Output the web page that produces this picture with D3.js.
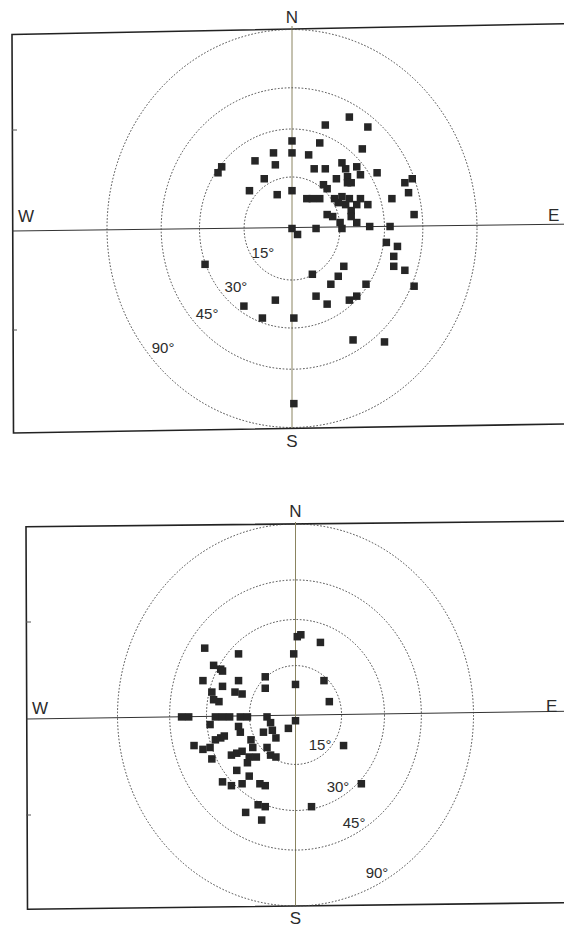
<!DOCTYPE html>
<html>
<head>
<meta charset="utf-8">
<script src="https://cdn.jsdelivr.net/npm/d3@7"></script>
<style>
  body { margin: 0; background: #fff; }
  svg { display: block; }
  text { font-family: "Liberation Sans", Arial, sans-serif; fill: #2b2b2b; }
</style>
</head>
<body>
<svg width="564" height="929"></svg>
<script>
// projected position of each pole, in % of the horizon radius (east, north)
var topEast = [31, 18, 41, 0, 15, 38, -10, 0, 9, -20, -9, 12, 18, 27, 29, 35, 37, 30, 24, 30, 32,
  -38, -40, 46, -15, 61, 65, 17, 19, -23, -8, 0, 63, 8, 11, 15, 23, 27, 31, 37, 41, 25, 29, 32, 35,
  19, 22, 32, 35, 26, 27, 54, 66, 0, 3, 13, 42, 53, 51, 57, 55, 55, 61, 66, -47, 28, 11, 25, 21,
  40, 13, 35, 31, 19, -9, -26, -16, 1, 33, 50, 1];
var topNorth = [56, 52, 51, 44, 43, 40, 38, 38, 37, 34, 32, 30, 30, 33, 30, 31, 27, 26, 25, 23, 23,
  31, 28, 28, 25, 23, 25, 22, 20, 19, 17, 19, 18, 15, 15, 15, 15, 16, 15, 15, 12, 13, 12, 9, 12,
  7, 6, 6, 3, 3, 0, 15, 7, 0, -3, 0, 1, 1, -7, -9, -14, -19, -21, -29, -18, -19, -23, -24, -28,
  -28, -34, -34, -36, -38, -36, -39, -45, -45, -56, -57, -88];

var botEast = [1, 3, 14, -51, -32, -1, -46, -42, -41, -17, 16, -52, -32, -41, -17, 0, -34, -30,
  -47, -46, -43, 19, -64, -60, -45, -41, -37, -31, -27, -16, 0, -48, -32, -31, -14, -13, -11, -4,
  -18, -25, -24, -45, -42, -40, -57, -52, -48, -47, -36, -33, -30, -26, -27, -22, -16, -14, -11,
  27, -33, -26, -41, -36, -30, -20, -17, 37, -21, -17, 9, -28, -19];
var botNorth = [41, 42, 38, 35, 32, 32, 26, 24, 23, 20, 18, 18, 18, 15, 14, 16, 12, 11,
  12, 8, 7, 7, -1, -1, -1, -1, -1, -1, -1, -1, -3, -5, -6, -9, -4, -8, -12, -7,
  -9, -13, -17, -13, -12, -11, -16, -18, -17, -23, -21, -20, -19, -22, -25, -22, -17, -21, -22,
  -16, -29, -32, -35, -37, -36, -36, -37, -36, -47, -48, -48, -51, -55];

var ringAngles = [15, 30, 45, 90];
var ringLabels = ["15°", "30°", "45°", "90°"];
var compass = ["N", "S", "W", "E"];

var svg = d3.select("svg");

var panels = [
  { cx: 292, cy: 228.5, rx: 185, ry: 199, east: topEast, north: topNorth,
    left: 12, frameTop: [34.5, 23.7], frameBot: [433, 424], axisY: [231, 224.2],
    vTop: 26, vBot: 428, ticks: [130, 330],
    labelPos: [[-0.157, 0.123], [-0.303, 0.294], [-0.459, 0.43], [-0.697, 0.6]],
    nY: 23, sY: 447, wX: 18, wY: 222, eX: 548, eY: 221 },
  { cx: 295.5, cy: 715, rx: 178, ry: 191, east: botEast, north: botNorth,
    left: 26, frameTop: [526.7, 521.2], frameBot: [909.2, 902.7], axisY: [719, 711.3],
    vTop: 522, vBot: 906, ticks: [622, 815],
    labelPos: [[0.138, 0.157], [0.239, 0.377], [0.329, 0.565], [0.458, 0.827]],
    nY: 517, sY: 924, wX: 32, wY: 714, eX: 546, eY: 712 }
];

panels.forEach(drawPanel);

function drawPanel(p) {
  var g = svg.append("g");
  var x = d3.scaleLinear().domain([-100, 100]).range([p.cx - p.rx, p.cx + p.rx]);
  var y = d3.scaleLinear().domain([-100, 100]).range([p.cy + p.ry, p.cy - p.ry]);

  // frame (slightly skewed like the scan)
  var frame = d3.line();
  g.append("path")
    .attr("d", frame([[564, p.frameTop[1]], [p.left, p.frameTop[0]], [p.left + 1.5, p.frameBot[0]], [564, p.frameBot[1]]]))
    .attr("fill", "none").attr("stroke", "#222").attr("stroke-width", 1.6);

  g.selectAll(".tick").data(p.ticks).enter().append("line")
    .attr("x1", p.left).attr("x2", p.left + 5)
    .attr("y1", function (d) { return d; }).attr("y2", function (d) { return d; })
    .attr("stroke", "#555").attr("stroke-width", 1);

  // W-E and N-S lines
  g.append("line")
    .attr("x1", p.left).attr("y1", p.axisY[0]).attr("x2", 564).attr("y2", p.axisY[1])
    .attr("stroke", "#333").attr("stroke-width", 1);
  g.append("line")
    .attr("x1", x(0)).attr("y1", p.vTop).attr("x2", x(0)).attr("y2", p.vBot)
    .attr("stroke", "#8a8460").attr("stroke-width", 1);

  // zenith-angle rings (orthographic: r = sin z)
  g.selectAll(".ring").data(ringAngles).enter().append("ellipse")
    .attr("cx", x(0)).attr("cy", y(0))
    .attr("rx", function (d) { return x(100 * Math.sin(d * Math.PI / 180)) - x(0); })
    .attr("ry", function (d) { return y(0) - y(100 * Math.sin(d * Math.PI / 180)); })
    .attr("fill", "none").attr("stroke", "#444").attr("stroke-width", 1)
    .attr("stroke-dasharray", "1.6,1.8");

  g.selectAll(".rl").data(ringLabels).enter().append("text")
    .attr("x", function (d, i) { return x(0) + p.labelPos[i][0] * p.rx; })
    .attr("y", function (d, i) { return y(0) + p.labelPos[i][1] * p.ry + 5; })
    .attr("text-anchor", "middle").attr("font-size", 15)
    .text(function (d) { return d; });

  // compass letters
  g.append("text").attr("x", x(0)).attr("y", p.nY).attr("text-anchor", "middle")
    .attr("font-size", 17).text(compass[0]);
  g.append("text").attr("x", x(0)).attr("y", p.sY).attr("text-anchor", "middle")
    .attr("font-size", 17).text(compass[1]);
  g.append("text").attr("x", p.wX).attr("y", p.wY).attr("font-size", 17)
    .attr("letter-spacing", -1).text(compass[2]);
  g.append("text").attr("x", p.eX).attr("y", p.eY).attr("font-size", 17).text(compass[3]);

  // poles
  var s = 7.5;
  g.selectAll(".pt").data(p.east).enter().append("rect")
    .attr("x", function (d) { return x(d) - s / 2; })
    .attr("y", function (d, i) { return y(p.north[i]) - s / 2; })
    .attr("width", s).attr("height", s)
    .attr("fill", "#262626");
}
</script>
</body>
</html>
